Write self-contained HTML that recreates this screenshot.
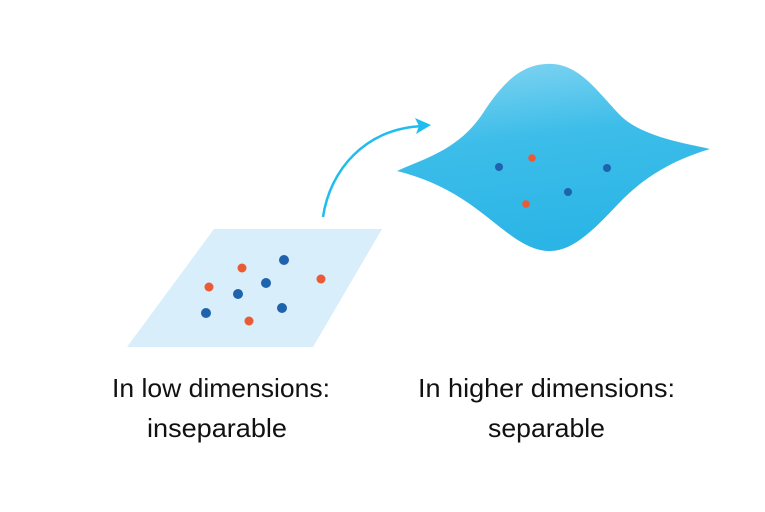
<!DOCTYPE html>
<html><head><meta charset="utf-8"><style>
html,body{margin:0;padding:0;background:#fff;width:765px;height:512px;overflow:hidden}
svg{display:block}
text{font-family:"Liberation Sans",sans-serif;font-size:26px;fill:#111}
</style></head><body>
<svg width="765" height="512" viewBox="0 0 765 512">
<defs>
<linearGradient id="g" x1="0" y1="0" x2="0.2" y2="1">
<stop offset="0" stop-color="#86d6f2"/>
<stop offset="0.45" stop-color="#3dbde9"/>
<stop offset="1" stop-color="#2bb5e6"/>
</linearGradient>
</defs>
<polygon points="214,229 382,229 313,347 127,347" fill="#d8eefa"/>
<g fill="#ea5a35">
<circle cx="209" cy="287" r="4.5"/><circle cx="242" cy="268" r="4.5"/><circle cx="249" cy="321" r="4.5"/><circle cx="321" cy="279" r="4.5"/>
</g>
<g fill="#1f62ad">
<circle cx="284" cy="260" r="5"/><circle cx="266" cy="283" r="5"/><circle cx="238" cy="294" r="5"/><circle cx="206" cy="313" r="5"/><circle cx="282" cy="308" r="5"/>
</g>
<path d="M323,217 C330,170 365,128 424,126" fill="none" stroke="#1fbdef" stroke-width="2.5"/>
<path d="M431,125 L415,118 L419,126 L416,134 Z" fill="#1fbdef"/>
<path d="M397,171 C425,158 460,150 485,110 C510,72 530,63 553,64 C582,66 600,95 622,117 C645,138 690,144 710,149 C680,158 650,172 622,200 C597,226 575,251 550,251 C525,251 505,230 478,210 C452,190 425,178 397,171 Z" fill="url(#g)"/>
<g fill="#1f62ad">
<circle cx="499" cy="167" r="4"/><circle cx="607" cy="168" r="4"/><circle cx="568" cy="192" r="4"/>
</g>
<g fill="#ea5a35">
<circle cx="532" cy="158" r="3.8"/><circle cx="526" cy="204" r="3.8"/>
</g>
<text x="112" y="397" textLength="218" lengthAdjust="spacingAndGlyphs">In low dimensions:</text>
<text x="147" y="437" textLength="140" lengthAdjust="spacingAndGlyphs">inseparable</text>
<text x="418" y="397" textLength="257" lengthAdjust="spacingAndGlyphs">In higher dimensions:</text>
<text x="488" y="437" textLength="117" lengthAdjust="spacingAndGlyphs">separable</text>
</svg>
</body></html>
